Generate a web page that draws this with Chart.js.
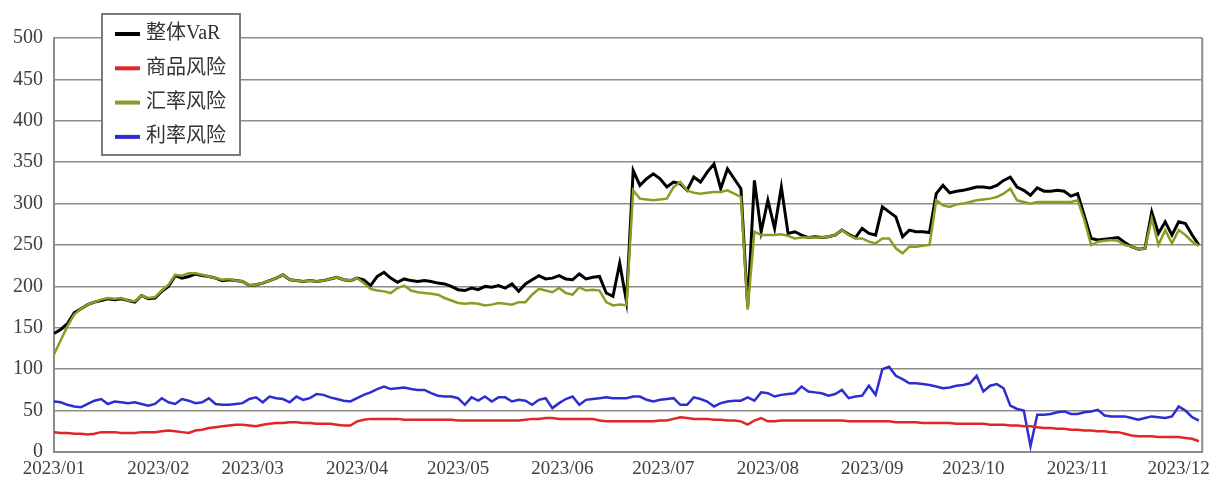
<!DOCTYPE html>
<html>
<head>
<meta charset="utf-8">
<script src="https://cdn.jsdelivr.net/npm/chart.js@4.4.1/dist/chart.umd.min.js"></script>
<style>
  html, body { margin: 0; padding: 0; background: #fff; }
  #wrap { width: 1216px; height: 482px; }
</style>
</head>
<body>
<div id="wrap"><canvas id="chart-container" width="1216" height="482"></canvas></div>
<script>
// one value every 2 calendar days, starting 2023/01/01
const STEP_DAYS = 2;
const seriesNames = ['整体VaR', '商品风险', '汇率风险', '利率风险'];
const monthStarts = [0, 31, 59, 90, 120, 151, 181, 212, 243, 273, 304, 334];
const monthLabels = ['2023/01', '2023/02', '2023/03', '2023/04', '2023/05', '2023/06',
                     '2023/07', '2023/08', '2023/09', '2023/10', '2023/11', '2023/12'];
const yTicks = [0, 50, 100, 150, 200, 250, 300, 350, 400, 450, 500];

const totalVaR = [
  143,148,155,168,173,178,181,183,185,184,
  185,183,181,189,185,186,194,200,213,210,
  212,215,213,212,210,207,208,207,206,201,
  202,204,207,210,214,208,207,206,207,206,
  207,209,211,208,207,210,208,201,212,217,
  210,205,209,207,206,207,206,204,203,200,
  196,195,198,196,200,199,201,198,203,194,
  203,208,213,209,210,213,209,208,215,209,
  211,212,192,188,228,182,340,322,330,336,
  330,320,326,324,316,332,326,338,348,318,
  342,330,318,175,328,266,304,270,320,264,
  266,262,259,260,259,260,262,268,263,259,
  270,264,262,296,290,284,260,268,266,266,
  265,312,322,313,315,316,318,320,320,319,
  322,328,332,320,316,310,319,315,315,316,
  315,309,312,285,258,256,257,258,259,253,
  248,245,246,290,264,278,262,278,276,262,
  250
];
const commodityRisk = [
  24,23,23,22,22,21,22,24,24,24,
  23,23,23,24,24,24,25,26,25,24,
  23,26,27,29,30,31,32,33,33,32,
  31,33,34,35,35,36,36,35,35,34,
  34,34,33,32,32,37,39,40,40,40,
  40,40,39,39,39,39,39,39,39,39,
  38,38,38,38,38,38,38,38,38,38,
  39,40,40,41,41,40,40,40,40,40,
  40,38,37,37,37,37,37,37,37,37,
  38,38,40,42,41,40,40,40,39,39,
  38,38,37,33,38,41,37,37,38,38,
  38,38,38,38,38,38,38,38,37,37,
  37,37,37,37,37,36,36,36,36,35,
  35,35,35,35,34,34,34,34,34,33,
  33,33,32,32,31,31,30,29,29,28,
  28,27,27,26,26,25,25,24,24,22,
  20,19,19,19,18,18,18,18,17,16,
  13
];
const fxRisk = [
  118,135,152,166,173,178,181,184,186,185,
  186,183,182,189,186,187,195,202,214,213,
  216,216,214,212,210,208,209,207,206,201,
  202,204,207,210,214,208,207,206,207,206,
  207,209,211,208,207,210,204,197,195,194,
  192,198,201,195,193,192,191,190,186,183,
  180,179,180,179,177,178,180,179,178,181,
  181,190,197,195,193,198,192,190,199,195,
  196,195,181,177,178,177,316,306,305,304,
  305,306,320,326,316,313,312,313,314,314,
  316,312,308,172,266,262,262,262,263,261,
  258,259,259,259,259,260,262,268,262,258,
  258,254,252,258,258,246,240,248,248,249,
  250,304,298,296,299,300,302,304,305,306,
  308,312,318,304,302,300,302,302,302,302,
  302,302,304,280,250,254,255,256,255,250,
  248,245,246,282,250,268,252,268,262,254,
  249
];
const rateRisk = [
  61,60,57,55,54,58,62,64,58,61,
  60,59,60,58,56,58,65,60,58,64,
  62,59,60,65,58,57,57,58,59,64,
  66,60,67,65,64,60,67,63,65,70,
  69,66,64,62,61,65,69,72,76,79,
  76,77,78,76,75,75,71,68,67,67,
  65,57,66,62,67,61,66,66,61,63,
  62,57,63,65,53,59,64,67,57,63,
  64,65,66,65,65,65,67,67,63,61,
  63,64,65,57,57,66,64,61,55,59,
  61,62,62,66,62,72,71,67,69,70,
  71,79,73,72,71,68,70,75,65,67,
  68,80,69,100,103,92,88,83,83,82,
  81,79,77,78,80,81,83,92,73,80,
  82,77,56,52,50,7,45,45,46,48,
  49,46,46,48,49,51,44,43,43,43,
  41,39,41,43,42,41,43,55,50,42,
  38
];

const colors = ['#000000', '#e02626', '#8f9a22', '#2e2ed0'];
const widths = [3, 2.5, 2.5, 2.5];
const layers = [1, 2, 0, 3];

function toPoints(values) {
  return values.map((v, i) => ({ x: i * STEP_DAYS, y: v }));
}

const serif = "'Liberation Serif', 'Noto Sans CJK SC', serif";

const boxLegend = {
  id: 'boxLegend',
  afterDraw(chart) {
    const ctx = chart.ctx;
    const area = chart.chartArea;
    const x0 = area.left + 48, y0 = 14, w = 138, h = 141;
    ctx.save();
    // right frame line
    ctx.strokeStyle = '#8c8c8c';
    ctx.lineWidth = 2;
    ctx.beginPath();
    ctx.moveTo(area.right, area.top);
    ctx.lineTo(area.right, area.bottom);
    ctx.stroke();
    // legend box
    ctx.fillStyle = '#ffffff';
    ctx.fillRect(x0, y0, w, h);
    ctx.strokeStyle = '#7a7a7a';
    ctx.strokeRect(x0, y0, w, h);
    ctx.font = '20px ' + serif;
    ctx.textBaseline = 'middle';
    chart.data.datasets.forEach((ds, i) => {
      const y = y0 + 20 + i * 34.3;
      ctx.strokeStyle = ds.borderColor;
      ctx.lineWidth = 4;
      ctx.beginPath();
      ctx.moveTo(x0 + 13, y);
      ctx.lineTo(x0 + 38, y);
      ctx.stroke();
      ctx.fillStyle = '#333333';
      ctx.fillText(ds.label, x0 + 44, y);
    });
    ctx.restore();
  }
};

const seriesValues = [totalVaR, commodityRisk, fxRisk, rateRisk];
const ctx = document.getElementById('chart-container').getContext('2d');
new Chart(ctx, {
  type: 'line',
  data: {
    datasets: seriesNames.map((name, i) => ({
      label: name,
      data: toPoints(seriesValues[i]),
      borderColor: colors[i],
      backgroundColor: colors[i],
      borderWidth: widths[i],
      pointRadius: 0,
      tension: 0,
      order: layers[i]
    }))
  },
  options: {
    responsive: false,
    animation: false,
    layout: { padding: { top: 38, right: 9, left: 0, bottom: 0 } },
    plugins: { legend: { display: false }, tooltip: { enabled: false } },
    scales: {
      x: {
        type: 'linear',
        min: 0,
        max: 341,
        afterBuildTicks(scale) {
          scale.ticks = monthStarts.map(v => ({ value: v }));
        },
        afterFit(scale) { scale.height = 30; },
        grid: { display: false, drawTicks: false },
        border: { display: true, color: '#8c8c8c', width: 2 },
        ticks: {
          padding: 6,
          maxRotation: 0,
          autoSkip: false,
          color: '#404040',
          font: { family: serif, size: 19 },
          callback: (v) => monthLabels[monthStarts.indexOf(v)]
        }
      },
      y: {
        min: 0,
        max: 500,
        afterBuildTicks(scale) {
          scale.ticks = yTicks.map(v => ({ value: v }));
        },
        afterFit(scale) { scale.width = 54; },
        grid: { color: '#8c8c8c', lineWidth: 1.6, drawTicks: false },
        border: { display: true, color: '#8c8c8c', width: 2 },
        ticks: {
          padding: 11,
          color: '#404040',
          font: { family: serif, size: 20 }
        }
      }
    }
  },
  plugins: [boxLegend]
});
</script>
</body>
</html>
